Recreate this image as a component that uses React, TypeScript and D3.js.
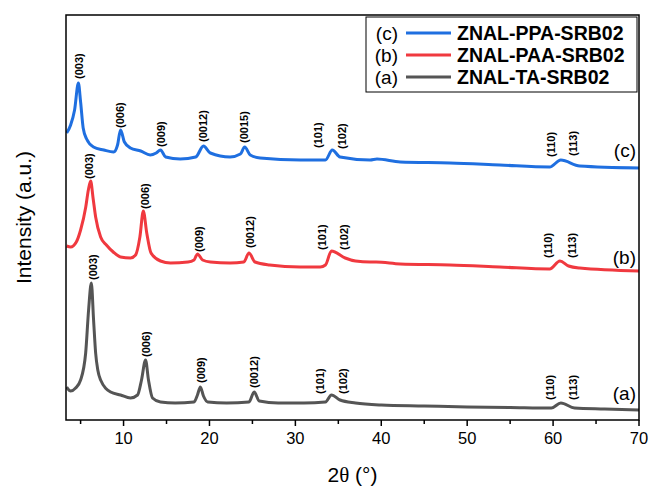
import React from "react";
import * as d3 from "d3";

// 2θ (deg), intensity (a.u.)
const seriesA: [number, number][] = [
  [3.38, 33], [3.84, 29], [4.42, 32], [5.0, 40], [5.59, 67], [5.93, 110], [6.25, 137], [6.51, 100],
  [6.75, 67], [7.0, 50], [7.33, 40], [8.49, 28], [9.65, 25], [10.81, 22], [11.63, 25], [12.09, 40], [12.56, 60],
  [12.9, 40], [13.37, 22], [14.3, 18], [16.0, 17], [18.2, 18], [18.6, 25], [18.94, 33], [19.3, 24],
  [19.8, 18], [22.0, 17], [24.6, 18], [25.2, 28], [25.8, 19], [28.0, 17], [31.0, 17], [33.5, 18],
  [34.2, 25], [35.2, 20], [37.0, 17], [40.0, 15], [45.0, 14], [50.0, 13], [55.0, 12.5], [59.8, 12],
  [60.9, 17], [62.5, 12], [66.0, 11], [70.0, 10],
];
const seriesB: [number, number][] = [
  [3.38, 174], [3.84, 173], [4.5, 178], [5.0, 190], [5.6, 213], [5.9, 230], [6.17, 239], [6.45, 222],
  [6.75, 203], [7.33, 183], [8.0, 175], [8.8, 168], [9.65, 163], [10.81, 162], [11.4, 165], [11.9, 183], [12.3, 209],
  [12.7, 187], [13.2, 167], [14.3, 159], [15.46, 157], [17.5, 158], [18.2, 160], [18.6, 166], [19.2, 160],
  [20.1, 158], [22.4, 157], [24.0, 158], [24.6, 167], [25.3, 158], [27.0, 155], [30.56, 153], [32.9, 153],
  [33.5, 155], [34.2, 169], [35.8, 162], [37.0, 159], [38.7, 158], [39.4, 158], [42.2, 156], [48.0, 155],
  [53.8, 153], [59.6, 151], [60.8, 159], [61.8, 154], [63.1, 152], [70.0, 149],
];
const seriesC: [number, number][] = [
  [3.38, 287], [3.84, 295], [4.3, 310], [4.74, 337], [5.0, 318], [5.3, 292], [5.7, 281], [6.5, 273],
  [7.7, 270], [8.84, 268], [9.3, 275], [9.65, 290], [10.1, 278], [10.8, 272], [12.0, 269], [13.1, 265],
  [13.8, 267], [14.3, 270], [14.9, 263], [16.6, 261], [18.4, 263], [19.3, 274], [20.1, 267], [22.4, 263],
  [23.6, 266], [24.1, 273], [24.75, 265], [25.9, 262], [30.6, 260], [33.5, 260], [34.3, 270], [35.2, 263],
  [38.7, 260], [39.5, 261], [42.2, 258], [48.0, 257], [53.8, 255], [59.6, 253], [60.9, 260], [63.1, 254],
  [70.0, 252],
];

// peak annotations: [label, 2θ, intensity at label base]
const labelsA: [string, number, number][] = [
  ["(003)", 6.5, 140], ["(006)", 12.67, 63], ["(009)", 19.0, 37], ["(0012)", 25.2, 32],
  ["(101)", 32.9, 26], ["(102)", 35.56, 26], ["(110)", 59.6, 20], ["(113)", 62.3, 20],
];
const labelsB: [string, number, number][] = [
  ["(003)", 5.97, 241], ["(006)", 12.47, 211], ["(009)", 18.75, 168], ["(0012)", 24.75, 172],
  ["(101)", 33.1, 170], ["(102)", 35.7, 170], ["(110)", 59.4, 162], ["(113)", 62.2, 162],
];
const labelsC: [string, number, number][] = [
  ["(003)", 4.81, 341], ["(006)", 9.65, 292], ["(009)", 14.38, 273], ["(0012)", 19.26, 278],
  ["(0015)", 24.06, 277], ["(101)", 32.7, 272], ["(102)", 35.5, 271], ["(110)", 59.8, 263],
  ["(113)", 62.3, 264],
];

const seriesNames = ["ZNAL-PPA-SRB02", "ZNAL-PAA-SRB02", "ZNAL-TA-SRB02"];
const seriesTags = ["(c)", "(b)", "(a)"];
const tagLevels = [270, 163, 27];
const xTicks = [10, 20, 30, 40, 50, 60, 70];
const xMinorTicks = [5, 15, 25, 35, 45, 55, 65];

const COLORS = ["#1f6fe0", "#f0393f", "#555555"];

export default function App() {
  const W = 649, H = 491;
  const left = 66, right = 639, top = 15, bottom = 420;
  const x = d3.scaleLinear().domain([3.3, 70]).range([left, right]);
  const y = d3.scaleLinear().domain([0, 405]).range([bottom, top]);
  const line = d3
    .line<[number, number]>()
    .x((d) => x(d[0]))
    .y((d) => y(d[1]))
    .curve(d3.curveMonotoneX);

  const all = [seriesC, seriesB, seriesA];
  const labels = [labelsC, labelsB, labelsA];
  const font = "'Liberation Sans', Arial, sans-serif";

  return (
    <svg
      width={W}
      height={H}
      style={{ position: "absolute", left: 0, top: 0, display: "block", background: "#fff" }}
      fontFamily={font}
    >
      <defs>
        <clipPath id="plot">
          <rect x={left} y={top} width={right - left} height={bottom - top} />
        </clipPath>
      </defs>
      {/* series lines */}
      <g clipPath="url(#plot)">
        {all.map((s, i) => (
          <path key={i} d={line(s) || ""} fill="none" stroke={COLORS[i]} strokeWidth={3} strokeLinejoin="round" />
        ))}
      </g>
      {/* peak labels */}
      {labels.map((ls, i) =>
        ls.map(([t, px, py], j) => (
          <text
            key={i + "-" + j}
            transform={`translate(${x(px)},${y(py)}) rotate(-90)`}
            dy="0.35em"
            fontSize={11}
            fontWeight="bold"
            fill="#000"
          >
            {t}
          </text>
        ))
      )}
      {/* series tags */}
      {seriesTags.map((t, i) => (
        <text key={t} x={636} y={y(tagLevels[i])} dy="0.35em" textAnchor="end" fontSize={19} fill="#000">
          {t}
        </text>
      ))}
      {/* frame */}
      <rect x={left} y={top} width={right - left} height={bottom - top} fill="none" stroke="#000" strokeWidth={1.5} />
      {/* x ticks */}
      {xTicks.map((t) => (
        <g key={t}>
          <line x1={x(t)} x2={x(t)} y1={bottom} y2={bottom + 6} stroke="#000" strokeWidth={1.5} />
          <text x={x(t)} y={bottom + 24} textAnchor="middle" fontSize={16.5} fill="#000">
            {t}
          </text>
        </g>
      ))}
      {xMinorTicks.map((t) => (
        <line key={t} x1={x(t)} x2={x(t)} y1={bottom} y2={bottom + 4} stroke="#000" strokeWidth={1.5} />
      ))}
      {/* axis titles */}
      <text x={(left + right) / 2} y={482} textAnchor="middle" fontSize={21} fill="#000">
        2<tspan fontFamily="'Liberation Serif', serif">θ</tspan> (°)
      </text>
      <text
        transform={`translate(31,${(top + bottom) / 2}) rotate(-90)`}
        textAnchor="middle"
        fontSize={21}
        fill="#000"
      >
        Intensity (a.u.)
      </text>
      {/* legend */}
      <rect x={366} y={17} width={271} height={75} fill="#fff" stroke="#000" strokeWidth={1} />
      {seriesNames.map((n, i) => {
        const ly = 33 + i * 22;
        return (
          <g key={n}>
            <text x={398} y={ly} dy="0.35em" textAnchor="end" fontSize={19} fill="#000">
              {seriesTags[i]}
            </text>
            <line x1={406} x2={451} y1={ly} y2={ly} stroke={COLORS[i]} strokeWidth={3} />
            <text x={457} y={ly} dy="0.35em" fontSize={19.5} fontWeight="bold" fill="#000">
              {n}
            </text>
          </g>
        );
      })}
    </svg>
  );
}
